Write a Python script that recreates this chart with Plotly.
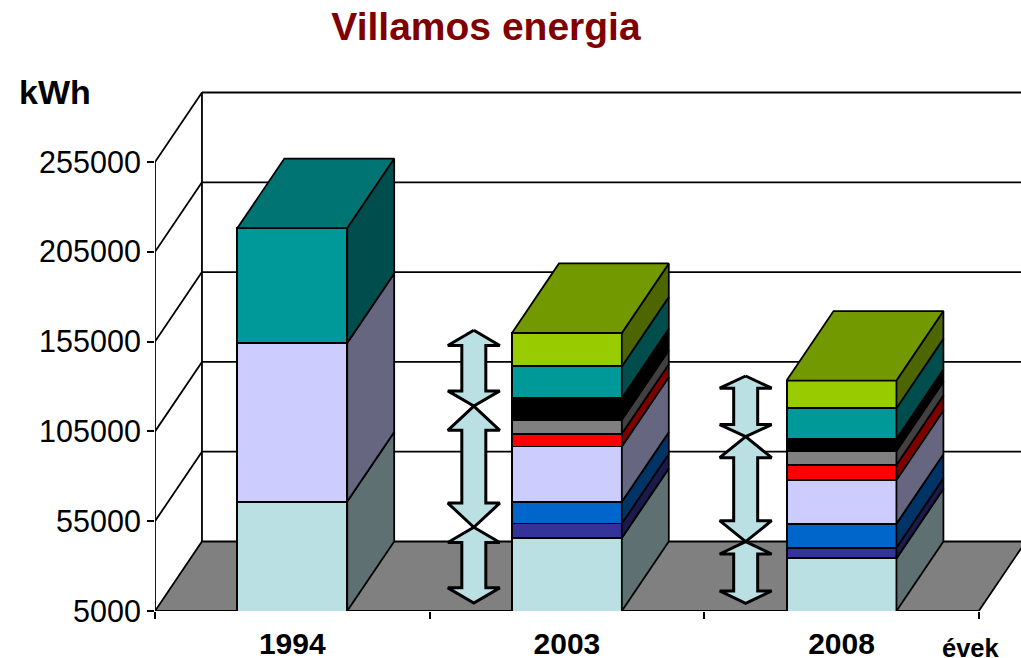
import plotly.graph_objects as go

years = ["1994", "2003", "2008"]
series_names = ["Sorozat 1", "Sorozat 2", "Sorozat 3", "Sorozat 4", "Sorozat 5",
                "Sorozat 6", "Sorozat 7", "Sorozat 8", "Sorozat 9"]
s1 = [65900, 45700, 34300]
s2 = [0, 8000, 5900]
s3 = [0, 12100, 13400]
s4 = [88300, 30800, 24300]
s5 = [0, 7100, 8400]
s6 = [0, 7800, 7800]
s7 = [0, 11900, 6700]
s8 = [64000, 17800, 17100]
s9 = [0, 18600, 15400]
series = [s1, s2, s3, s4, s5, s6, s7, s8, s9]

front_colors = ["#BBE0E3", "#333399", "#0066CC", "#CCCCFF", "#FF0000",
                "#808080", "#000000", "#009999", "#99CC00"]
side_colors = ["#5E7072", "#1A1A4D", "#003366", "#666680", "#800000",
               "#404040", "#000000", "#004D4D", "#4D6600"]
top_colors = ["#8CA8AA", "#262673", "#004D99", "#9999BF", "#BF0000",
              "#606060", "#000000", "#007373", "#739900"]

y_ticks = [5000, 55000, 105000, 155000, 205000, 255000]
arrow_x = [1.161, 2.151]
arrow_breaks = [[161300, 119100, 51600, 9450], [135850, 102050, 43600, 9300]]

W, H = 1021, 658
ML, MB = 154.7, 47
PLOT_W, PLOT_H = W - ML, H - MB

Y_MIN, Y_MAX = 5000, 345200
X_MAX = 3.1536
DX, DY = 0.171, 38700
BAR_W = 0.40
LW = 1.8
BLACK = "#000000"

fig = go.Figure()
pos = [i + 0.5 for i in range(len(years))]

for name, vals, col in zip(series_names, series, front_colors):
    fig.add_trace(go.Bar(x=pos, y=vals, name=name, width=BAR_W, hoverinfo="skip",
                         marker=dict(color=col, line=dict(color=BLACK, width=LW))))


def poly(xs, ys, color, lw=LW):
    fig.add_trace(go.Scatter(x=xs, y=ys, mode="lines", fill="toself", fillcolor=color,
                             line=dict(color=BLACK, width=lw), hoverinfo="skip"))


for i, p in enumerate(pos):
    x1 = p + BAR_W / 2
    x0 = p - BAR_W / 2
    cum = 0
    last = None
    for k, vals in enumerate(series):
        v = vals[i]
        if not v:
            continue
        lo = max(cum, Y_MIN)
        cum += v
        poly([x1, x1 + DX, x1 + DX, x1, x1],
             [lo, lo + DY, cum + DY, cum, lo], side_colors[k])
        last = k
    poly([x0, x1, x1 + DX, x0 + DX, x0],
         [cum, cum, cum + DY, cum + DY, cum], top_colors[last])

HEAD_HALF, SHAFT_HALF = 0.0946, 0.0437
for cx, br in zip(arrow_x, arrow_breaks):
    for top, bot in zip(br[:-1], br[1:]):
        h = (top - bot) * 0.2
        poly([cx, cx + HEAD_HALF, cx + SHAFT_HALF, cx + SHAFT_HALF, cx + HEAD_HALF, cx,
              cx - HEAD_HALF, cx - SHAFT_HALF, cx - SHAFT_HALF, cx - HEAD_HALF, cx],
             [top, top - h, top - h, bot + h, bot + h, bot,
              bot + h, bot + h, top - h, top - h, top], "#BBE0E3", lw=3)

shapes = []
line = dict(color=BLACK, width=LW)
floor_path = (f"M 0 {Y_MIN} L {DX} {Y_MIN + DY} L {3 + DX} {Y_MIN + DY} "
              f"L 3 {Y_MIN} Z")
shapes.append(dict(type="path", path=floor_path, xref="x", yref="y", layer="below",
                   fillcolor="#808080", line=line))
for v in y_ticks[1:]:
    shapes.append(dict(type="line", xref="x", yref="y", layer="below", line=line,
                       x0=0, y0=v, x1=DX, y1=v + DY))
    shapes.append(dict(type="line", xref="x", yref="y", layer="below", line=line,
                       x0=DX, y0=v + DY, x1=X_MAX, y1=v + DY))
shapes.append(dict(type="line", xref="x", yref="y", layer="below", line=line,
                   x0=DX, y0=Y_MIN + DY, x1=DX, y1=y_ticks[-1] + DY))
shapes.append(dict(type="line", xref="x", yref="y", layer="below", line=line,
                   x0=0, y0=Y_MIN, x1=0, y1=y_ticks[-1]))
shapes.append(dict(type="line", xref="x", yref="y", layer="below",
                   line=dict(color=BLACK, width=2),
                   x0=0, y0=Y_MIN, x1=3, y1=Y_MIN))

FONT = "Liberation Sans"
fig.update_layout(
    width=W, height=H, autosize=False,
    margin=dict(l=ML, r=0, t=0, b=MB, pad=0, autoexpand=False),
    paper_bgcolor="#FFFFFF", plot_bgcolor="#FFFFFF",
    barmode="stack", showlegend=False,
    font=dict(family=FONT, color=BLACK),
    title=dict(text="<b>Villamos energia</b>", x=486 / W, xanchor="center",
               y=1 - 26.5 / H, yanchor="middle",
               font=dict(family=FONT, size=39, color="#800000")),
    xaxis=dict(range=[0, X_MAX], tickmode="array", tickvals=pos,
               ticktext=[f"<b>{y}</b>" for y in years], ticks="", ticklen=0,
               ticklabelstandoff=12, showgrid=False, zeroline=False, showline=False,
               automargin=False,
               tickfont=dict(family=FONT, size=30, color=BLACK),
               minor=dict(tickmode="array", tickvals=[0, 1, 2, 3], ticks="outside",
                          ticklen=7, tickcolor=BLACK, tickwidth=1.8, showgrid=False)),
    yaxis=dict(range=[Y_MIN, Y_MAX], tickmode="array", tickvals=y_ticks,
               ticktext=[str(v) for v in y_ticks], ticks="outside", ticklen=7,
               tickcolor=BLACK, tickwidth=1.8, showgrid=False, zeroline=False,
               showline=False, automargin=False,
               tickfont=dict(family=FONT, size=30.5, color=BLACK)),
    shapes=shapes,
    annotations=[
        dict(text="<b>kWh</b>", xref="paper", yref="paper",
             x=(54.5 - 154.7) / PLOT_W, y=(611 - 92) / PLOT_H, showarrow=False,
             xanchor="center", yanchor="middle",
             font=dict(family=FONT, size=34, color=BLACK)),
        dict(text="<b>évek</b>", xref="paper", yref="paper",
             x=(970.5 - 154.7) / PLOT_W, y=(611 - 648) / PLOT_H, showarrow=False,
             xanchor="center", yanchor="middle",
             font=dict(family=FONT, size=25.5, color=BLACK)),
    ],
)

fig.write_html("out.html", config={"displayModeBar": False},
               post_script="document.body.style.margin='0';")
